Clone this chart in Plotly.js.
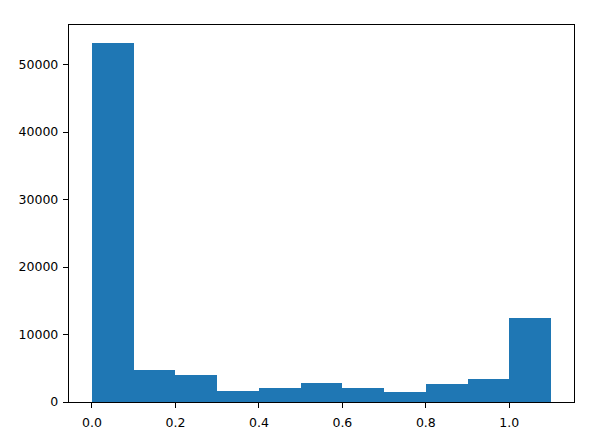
<!DOCTYPE html>
<html><head><meta charset="utf-8">
<script src="https://cdn.plot.ly/plotly-3.0.1.min.js"></script>
<style>body{margin:0;background:#fff}#c{width:607px;height:437px}</style>
</head><body><div id="c"></div>
<script>
const binStarts = [0.0,0.1,0.2,0.3,0.4,0.5,0.6,0.7,0.8,0.9,1.0];
const binWidth = 0.1;
const counts = [53200,4690,3950,1680,2120,2880,2120,1480,2710,3360,12440];
const xTicks = [0.0,0.2,0.4,0.6,0.8,1.0];
const yTicks = [0,10000,20000,30000,40000,50000];

const trace = {
  type:'bar',
  x: binStarts.map(s=>s+binWidth/2),
  y: counts,
  width: binStarts.map(()=>binWidth),
  marker:{color:'#1f77b4', line:{width:0}},
  hoverinfo:'none'
};
const axFont = {family:'DejaVu Sans', size:12.5, color:'#000'};
const layout = {
  width:607, height:437,
  margin:{l:69, r:33, t:25, b:35},
  paper_bgcolor:'#fff', plot_bgcolor:'#fff',
  showlegend:false,
  bargap:0,
  xaxis:{range:[-0.055,1.155], tickvals:xTicks, ticktext:xTicks.map(v=>v.toFixed(1)),
    showgrid:false, zeroline:false, showline:true, mirror:true, linecolor:'#000', linewidth:1.2,
    ticks:'outside', ticklen:5, tickcolor:'#000', tickfont:axFont, ticklabelstandoff:4},
  yaxis:{range:[0,55860], tickvals:yTicks, ticktext:yTicks.map(String),
    showgrid:false, zeroline:false, showline:true, mirror:true, linecolor:'#000', linewidth:1.2,
    ticks:'outside', ticklen:5, tickcolor:'#000', tickfont:axFont, ticklabelstandoff:2}
};
Plotly.newPlot('c',[trace],layout,{staticPlot:true,displayModeBar:false});
</script></body></html>
